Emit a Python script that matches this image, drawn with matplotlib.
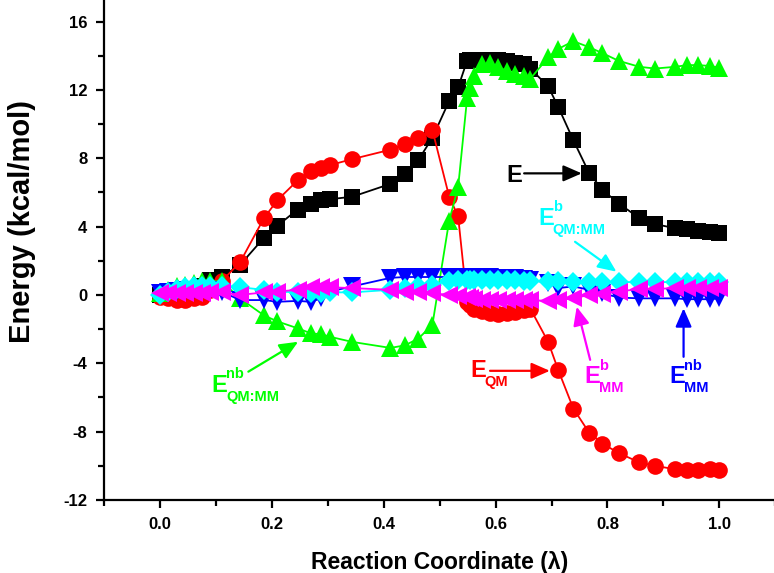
import matplotlib
matplotlib.use("Agg")
import matplotlib.pyplot as plt
from matplotlib.ticker import MultipleLocator, FormatStrFormatter

plt.rcParams['font.family'] = ['Liberation Sans', 'DejaVu Sans']
plt.rcParams['font.weight'] = 'bold'
plt.rcParams['axes.unicode_minus'] = False

# Reaction coordinate (shared by all series)
lam = [0.0, 0.015, 0.03, 0.045, 0.06, 0.075, 0.09, 0.11, 0.143, 0.186, 0.21, 0.246,
       0.27, 0.288, 0.304, 0.344, 0.412, 0.438, 0.462, 0.487, 0.517, 0.533,
       0.549, 0.555, 0.562, 0.575, 0.59, 0.605, 0.62, 0.635, 0.65, 0.662,
       0.694, 0.712, 0.739, 0.767, 0.791, 0.82, 0.857, 0.885, 0.921, 0.942, 0.962, 0.983, 1.0]

E_total = [0.0, 0.1, 0.15, 0.2, 0.3, 0.5, 0.85, 1.05, 1.75, 3.35, 4.05, 5.0,
           5.35, 5.55, 5.6, 5.75, 6.5, 7.1, 7.9, 9.2, 11.35, 12.15,
           13.7, 13.72, 13.75, 13.75, 13.75, 13.72, 13.68, 13.6, 13.5, 13.25,
           12.2, 11.0, 9.05, 7.15, 6.15, 5.35, 4.5, 4.15, 3.9, 3.85, 3.75, 3.7, 3.65]

E_QM = [-0.1, -0.2, -0.3, -0.3, -0.2, -0.1, 0.3, 0.8, 1.9, 4.5, 5.55, 6.7,
        7.25, 7.45, 7.6, 7.95, 8.5, 8.85, 9.2, 9.65, 5.75, 4.6,
        -0.4, -0.6, -0.8, -0.95, -1.05, -1.1, -1.05, -1.0, -0.9, -0.8,
        -2.75, -4.4, -6.65, -8.05, -8.7, -9.25, -9.8, -10.0, -10.2, -10.25, -10.25, -10.2, -10.25]

E_QMMM_nb = [0.1, 0.3, 0.5, 0.6, 0.7, 0.8, 0.8, 0.8, -0.2, -1.2, -1.55, -1.95,
             -2.25, -2.3, -2.45, -2.75, -3.1, -2.95, -2.55, -1.75, 4.35, 6.3,
             11.5, 12.1, 12.8, 13.5, 13.55, 13.35, 13.1, 12.95, 12.8, 12.65,
             13.9, 14.4, 14.85, 14.5, 14.15, 13.7, 13.35, 13.25, 13.35, 13.45, 13.45, 13.4, 13.3]

E_MM_nb = [0.1, 0.2, 0.25, 0.3, 0.3, 0.3, 0.3, 0.2, -0.3, -0.3, -0.4, -0.35,
           -0.4, -0.2, 0.2, 0.5, 1.0, 1.05, 1.05, 1.05, 1.05, 1.05,
           1.05, 1.05, 1.05, 1.05, 1.05, 1.0, 1.0, 1.0, 0.95, 0.9,
           0.7, 0.4, 0.5, 0.3, 0.1, -0.15, -0.2, -0.2, -0.2, -0.25, -0.25, -0.25, -0.2]

E_QMMM_b = [0.0, 0.2, 0.35, 0.45, 0.5, 0.5, 0.55, 0.5, 0.45, 0.3, 0.2, 0.15,
            0.1, 0.1, 0.15, 0.15, 0.3, 0.4, 0.5, 0.6, 0.8, 0.85,
            0.9, 0.9, 0.9, 0.9, 0.9, 0.85, 0.85, 0.85, 0.8, 0.8,
            0.8, 0.8, 0.75, 0.75, 0.75, 0.75, 0.75, 0.75, 0.75, 0.75, 0.75, 0.75, 0.75]

E_MM_b = [0.1, 0.1, 0.1, 0.1, 0.1, 0.1, 0.15, 0.15, 0.0, 0.15, 0.2, 0.3,
          0.45, 0.45, 0.45, 0.4, 0.3, 0.2, 0.2, 0.1, 0.0, -0.05,
          -0.1, -0.2, -0.25, -0.3, -0.3, -0.3, -0.3, -0.3, -0.3, -0.3,
          -0.35, -0.3, -0.2, 0.0, 0.05, 0.2, 0.35, 0.35, 0.4, 0.4, 0.4, 0.4, 0.4]

x_ticks = [0.0, 0.2, 0.4, 0.6, 0.8, 1.0]
y_ticks = [-12, -8, -4, 0, 4, 8, 12, 16]

fig = plt.figure(figsize=(7.74, 5.73), dpi=100)
ax = fig.add_axes([0.1344, 0.1274, 0.8673, 0.8726])

series = [
    (E_total, 'black', 's', 11),
    (E_QM, '#ff0000', 'o', 12),
    (E_QMMM_nb, '#00ff00', '^', 12.5),
    (E_MM_nb, '#0000ff', 'v', 12.5),
    (E_QMMM_b, '#00ffff', 'D', 10.5),
    (E_MM_b, '#ff00ff', '<', 12.5),
]
for i, (vals, col, mk, ms) in enumerate(series):
    ax.plot(lam, vals, color=col, lw=1.3, marker=mk, markersize=ms,
            markeredgewidth=0, zorder=2 + i)

ax.set_xlim(-0.1, 1.1)
ax.set_ylim(-12, 17.26)
ax.set_xticks(x_ticks)
ax.set_yticks(y_ticks)
ax.xaxis.set_major_formatter(FormatStrFormatter('%.1f'))
ax.xaxis.set_minor_locator(MultipleLocator(0.1))
ax.yaxis.set_minor_locator(MultipleLocator(2))
for s in ['top', 'right']:
    ax.spines[s].set_visible(False)
for s in ['left', 'bottom']:
    ax.spines[s].set_linewidth(1.6)
ax.tick_params(which='major', direction='out', length=6, width=1.6, labelsize=12, pad=6)
ax.tick_params(which='minor', direction='out', length=4, width=1.6)
for lab in ax.get_xticklabels() + ax.get_yticklabels():
    lab.set_fontweight('bold')

ax.set_xlabel('Reaction Coordinate (λ)', fontsize=16.5, fontweight='bold', labelpad=14)
ax.set_ylabel('Energy (kcal/mol)', fontsize=21, fontweight='bold')
ax.yaxis.set_label_coords(-0.101, 0.556)

BASE = 17
SMALL = 10.5
def label(x, y, col, sup=None, sub=None):
    ax.text(x, y, 'E', color=col, fontsize=BASE, fontweight='bold', ha='left', va='baseline', zorder=20)
    if sup:
        ax.annotate(sup, (x, y), xytext=(10.6, 9.8), textcoords='offset points', color=col,
                    fontsize=SMALL, fontweight='bold', ha='left', va='baseline', zorder=20)
    if sub:
        ax.annotate(sub, (x, y), xytext=(10.6, -6.5), textcoords='offset points', color=col,
                    fontsize=SMALL, fontweight='bold', ha='left', va='baseline', zorder=20)

def arrow(x0, y0, x1, y1, col):
    ax.annotate('', xy=(x1, y1), xytext=(x0, y0),
                arrowprops=dict(arrowstyle='-|>,head_length=0.8,head_width=0.35', color=col,
                                lw=1.6, mutation_scale=14, shrinkA=0, shrinkB=0), zorder=20)

label(0.62, 6.62, 'black')
arrow(0.651, 7.115, 0.754, 7.115, 'black')

label(0.676, 4.09, '#00ffff', sup='b', sub='QM:MM')
arrow(0.742, 3.11, 0.816, 1.36, '#00ffff')

label(0.0924, -5.66, '#00ff00', sup='nb', sub='QM:MM')
arrow(0.158, -4.49, 0.247, -2.74, '#00ff00')

label(0.554, -4.82, '#ff0000', sub='QM')
arrow(0.59, -4.44, 0.697, -4.44, '#ff0000')

label(0.758, -5.17, '#ff00ff', sup='b', sub='MM')
arrow(0.769, -3.80, 0.745, -0.69, '#ff00ff')

label(0.911, -5.17, '#0000ff', sup='nb', sub='MM')
arrow(0.936, -3.62, 0.936, -0.78, '#0000ff')

fig.savefig('out.png', dpi=100)
